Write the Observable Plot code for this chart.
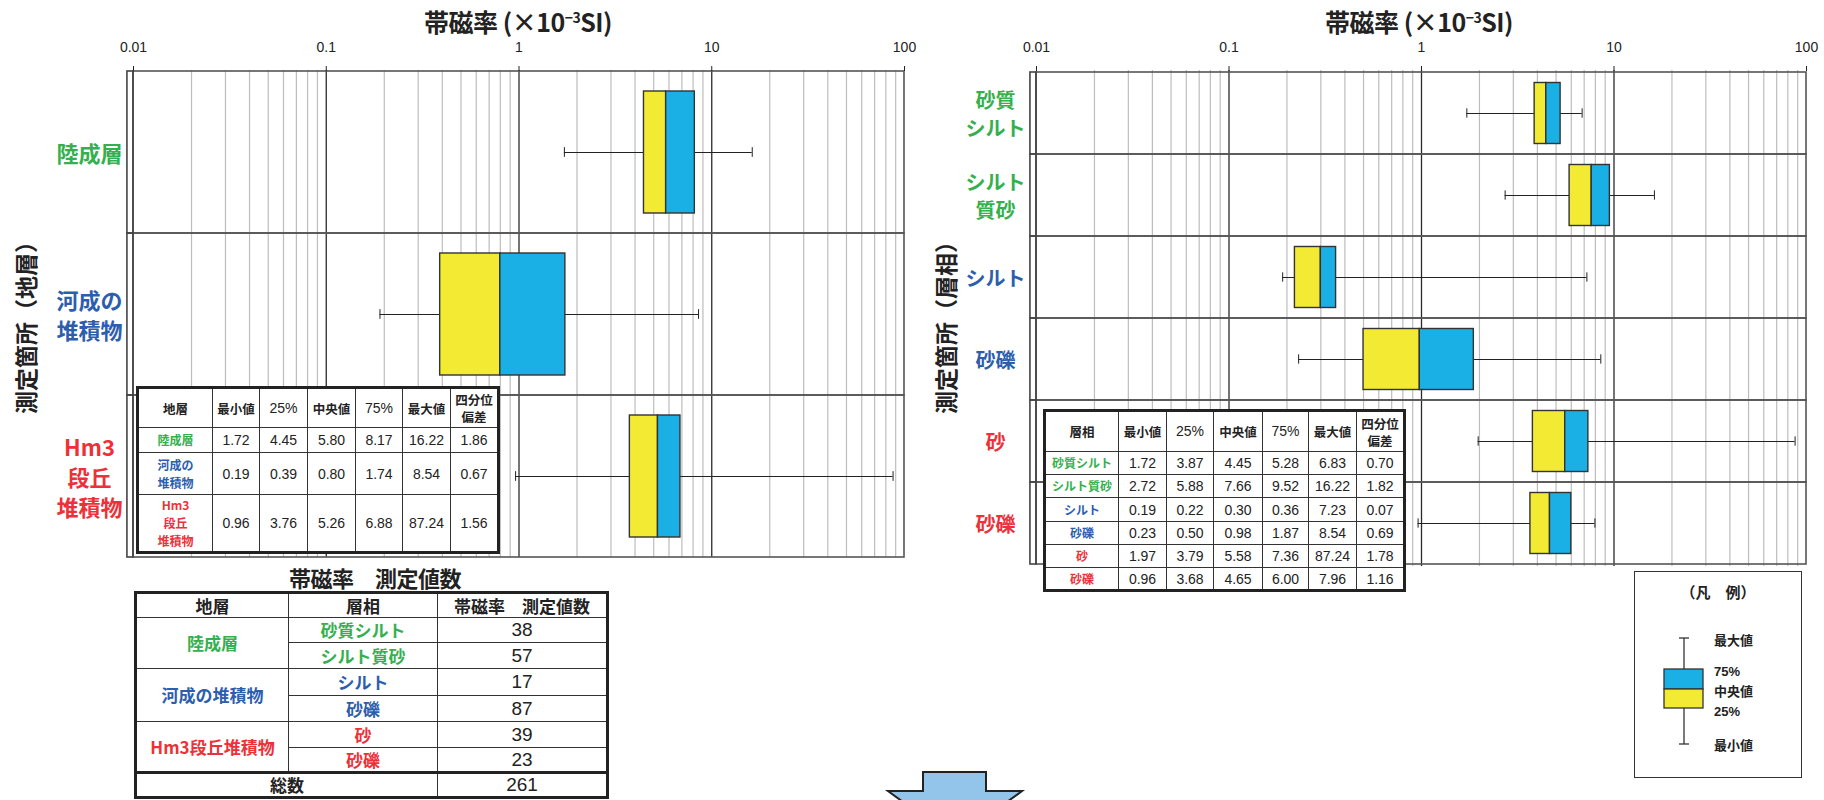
<!DOCTYPE html>
<html>
<head>
<meta charset="utf-8">
<script src="https://cdn.jsdelivr.net/npm/d3@7"></script>
<script src="https://cdn.jsdelivr.net/npm/@observablehq/plot@0.6"></script>
<style>
  html, body { margin: 0; padding: 0; background: #fff; }
  #root { position: relative; width: 1824px; height: 800px; overflow: hidden; background: #fff; }
  .abs { position: absolute; }
  .cjk { font-family: "Noto Sans CJK JP", "Noto Sans", sans-serif; font-weight: 700; }
  .title { position: absolute; width: 400px; text-align: center; font-size: 25px; line-height: 32px; color: #222; font-family: "Noto Sans CJK JP", sans-serif; font-weight: 700; letter-spacing: -0.5px; }
  .title sup { font-size: 14px; vertical-align: 9px; line-height: 0; }
  .ytitle { position: absolute; width: 300px; height: 30px; line-height: 30px; text-align: center; font-size: 23px; color: #222; font-family: "Noto Sans CJK JP", sans-serif; font-weight: 700; transform: rotate(-90deg); transform-origin: 50% 50%; }
  table.st { position: absolute; border-collapse: collapse; border: 3px solid #222; background: #fff; table-layout: fixed; font-family: "Liberation Sans", Arial, sans-serif; color: #222; }
  table.st td { border: 1.3px solid #333; text-align: center; padding: 0; font-size: 14px; }
  table.st td.h { font-family: "Noto Sans CJK JP", sans-serif; font-weight: 700; font-size: 12.5px; line-height: 17px; }
  table.st td.h.num { font-family: "Liberation Sans", Arial, sans-serif; font-size: 14px; font-weight: 400; }
  table.st td.lab { font-family: "Noto Sans CJK JP", sans-serif; font-weight: 700; font-size: 12px; line-height: 18px; }
  table.ct { position: absolute; border-collapse: collapse; border: 3px solid #222; background: #fff; table-layout: fixed; color: #222; }
  table.ct td { border: 1.3px solid #333; text-align: center; padding: 0; font-family: "Noto Sans CJK JP", sans-serif; font-weight: 700; font-size: 17px; line-height: 20px; }
  table.ct td.n { font-family: "Liberation Sans", Arial, sans-serif; font-weight: 400; font-size: 19px; }
  table.ct tr.tot td { border-top: 3px solid #222; }
  .legend { position: absolute; left: 1634px; top: 571px; width: 166px; height: 205px; border: 1.5px solid #333; background: #fff; }
  .legend .lt { position: absolute; left: 0; top: 8px; width: 166px; text-align: center; font-size: 15px; line-height: 24px; color: #222; }
  .legend .ll { position: absolute; left: 79px; font-size: 13px; line-height: 16px; color: #222; }
</style>
</head>
<body>
<div id="root"></div>
<script>
// ---------------- data ----------------
const xTicks = [0.01, 0.1, 1, 10, 100];

const strata = ["陸成層", "河成の堆積物", "Hm3段丘堆積物"];
const strataLabels = ["陸成層", "河成の\n堆積物", "Hm3\n段丘\n堆積物"];
const strataMin = [1.72, 0.19, 0.96];
const strataQ1  = [4.45, 0.39, 3.76];
const strataMed = [5.80, 0.80, 5.26];
const strataQ3  = [8.17, 1.74, 6.88];
const strataMax = [16.22, 8.54, 87.24];
const strataQD  = [1.86, 0.67, 1.56];

const facies = ["砂質シルト", "シルト質砂", "シルト", "砂礫", "砂", "砂礫"];
const faciesLabels = ["砂質\nシルト", "シルト\n質砂", "シルト", "砂礫", "砂", "砂礫"];
const faciesStratum = [0, 0, 1, 1, 2, 2];
const faciesMin = [1.72, 2.72, 0.19, 0.23, 1.97, 0.96];
const faciesQ1  = [3.87, 5.88, 0.22, 0.50, 3.79, 3.68];
const faciesMed = [4.45, 7.66, 0.30, 0.98, 5.58, 4.65];
const faciesQ3  = [5.28, 9.52, 0.36, 1.87, 7.36, 6.00];
const faciesMax = [6.83, 16.22, 7.23, 8.54, 87.24, 7.96];
const faciesQD  = [0.70, 1.82, 0.07, 0.69, 1.78, 1.16];
const faciesCounts = [38, 57, 17, 87, 39, 23];

const statHeaders = ["最小値", "25%", "中央値", "75%", "最大値", "四分位\n偏差"];

// ---------------- styles ----------------
const stratumColors = ["#34b04e", "#2d5eae", "#ee3039"];
const boxLow = "#f3ea34", boxHigh = "#1bb0e5";

const root = document.getElementById("root");

function boxPlot(o) {
  const rows = o.labels.map((label, i) => ({
    key: String(i), label, color: stratumColors[o.groups[i]],
    min: o.min[i], q1: o.q1[i], med: o.med[i], q3: o.q3[i], max: o.max[i]
  }));
  const minor = [];
  for (const d of [0.01, 0.1, 1, 10]) for (let k = 2; k <= 9; k++) minor.push(+(d * k).toPrecision(3));
  const bandH = (o.height - o.marginTop - o.marginBottom) / rows.length;
  const capInset = (bandH - 10) / 2;
  return Plot.plot({
    width: o.width, height: o.height,
    marginLeft: o.marginLeft, marginRight: o.marginRight, marginTop: o.marginTop, marginBottom: o.marginBottom,
    x: {type: "log", domain: [0.01, 100]},
    y: {type: "band", domain: rows.map(r => r.key), padding: 0, axis: null},
    color: {type: "identity"},
    style: {background: "transparent", color: "#222", fontFamily: "'Liberation Sans', Arial, sans-serif", fontSize: "14px", overflow: "visible"},
    marks: [
      Plot.ruleX(minor, {stroke: "#bdbdbd", strokeWidth: 1.2}),
      Plot.ruleX([0.1, 1, 10], {stroke: "#2a2a2a", strokeWidth: 1.3}),
      Plot.barX(rows, {x1: () => 0.01, x2: () => 100, y: "key", fill: "none", stroke: "#555", strokeWidth: 1.6}),
      Plot.barX(rows, {x1: () => 0.0093, x2: () => 0.01, y: "key", fill: "none", stroke: "#444", strokeWidth: 1.6}),
      Plot.axisX({anchor: "top", ticks: xTicks, tickSize: 5, tickPadding: 14, tickFormat: d => String(d), label: null, fontSize: 14}),
      Plot.ruleY(rows, {y: "key", x1: "min", x2: "max", stroke: "#222", strokeWidth: 1}),
      Plot.tickX(rows, {x: "min", y: "key", insetTop: capInset, insetBottom: capInset, stroke: "#222", strokeWidth: 1}),
      Plot.tickX(rows, {x: "max", y: "key", insetTop: capInset, insetBottom: capInset, stroke: "#222", strokeWidth: 1}),
      Plot.barX(rows, {x1: "q1", x2: "med", y: "key", fill: boxLow, stroke: "#333", strokeWidth: 1.4, insetTop: o.boxInset, insetBottom: o.boxInset}),
      Plot.barX(rows, {x1: "med", x2: "q3", y: "key", fill: boxHigh, stroke: "#333", strokeWidth: 1.4, insetTop: o.boxInset, insetBottom: o.boxInset}),
      Plot.text(rows, {y: "key", text: "label", fill: "color", frameAnchor: "left", dx: o.labelDx, textAnchor: "middle",
        fontSize: o.fontSize, fontWeight: "bold", lineHeight: o.lineHeight, fontFamily: "'Noto Sans CJK JP', sans-serif"})
    ]
  });
}

function place(el, left, top) {
  const wrap = document.createElement("div");
  wrap.className = "abs";
  wrap.style.left = left + "px";
  wrap.style.top = top + "px";
  wrap.appendChild(el);
  root.appendChild(wrap);
  return wrap;
}

// left panel
place(boxPlot({
  labels: strataLabels, groups: [0, 1, 2],
  min: strataMin, q1: strataQ1, med: strataMed, q3: strataQ3, max: strataMax,
  width: 912, height: 570, marginLeft: 133, marginRight: 8, marginTop: 70, marginBottom: 13,
  boxInset: 20, labelDx: -44, fontSize: 22, lineHeight: 1.35
}), 0, 0);

// right panel
place(boxPlot({
  labels: faciesLabels, groups: faciesStratum,
  min: faciesMin, q1: faciesQ1, med: faciesMed, q3: faciesQ3, max: faciesMax,
  width: 912, height: 580, marginLeft: 124, marginRight: 18, marginTop: 70, marginBottom: 14,
  boxInset: 10.5, labelDx: -41, fontSize: 20, lineHeight: 1.4
}), 912, 0);

// titles
function addDiv(cls, html, left, top) {
  const d = document.createElement("div");
  d.className = cls; d.innerHTML = html;
  d.style.left = left + "px"; d.style.top = top + "px";
  root.appendChild(d); return d;
}
addDiv("title", "帯磁率 (×10<sup>−3</sup>SI)", 318, 5);
addDiv("title", "帯磁率 (×10<sup>−3</sup>SI)", 1219, 5);
addDiv("ytitle", "測定箇所（地層）", 25 - 150, 322 - 15);
addDiv("ytitle", "測定箇所（層相）", 945 - 150, 322 - 15);

// stats tables
function statsTable(firstHeader, labels, groups, cols, colWidths, rowHeights, left, top) {
  const t = document.createElement("table");
  t.className = "st";
  t.style.left = left + "px"; t.style.top = top + "px";
  let html = "<colgroup>" + colWidths.map(w => `<col style="width:${w}px">`).join("") + "</colgroup>";
  html += `<tr style="height:${rowHeights[0]}px"><td class="h">${firstHeader}</td>` +
    statHeaders.map(h => `<td class="h${/%/.test(h) ? " num" : ""}">${h.replace("\n", "<br>")}</td>`).join("") + "</tr>";
  labels.forEach((lab, i) => {
    html += `<tr style="height:${rowHeights[i + 1]}px"><td class="lab" style="color:${stratumColors[groups[i]]}">${lab.replace(/\n/g, "<br>")}</td>` +
      cols.map(c => `<td>${c[i].toFixed(2)}</td>`).join("") + "</tr>";
  });
  t.innerHTML = html;
  root.appendChild(t);
}
statsTable("地層", strataLabels, [0, 1, 2],
  [strataMin, strataQ1, strataMed, strataQ3, strataMax, strataQD],
  [75, 47, 48, 48, 47, 48, 48], [40, 25, 42, 58], 136, 386);
statsTable("層相", facies, faciesStratum,
  [faciesMin, faciesQ1, faciesMed, faciesQ3, faciesMax, faciesQD],
  [74, 48, 47, 49, 46, 48, 48], [41, 23, 23, 24, 23, 23, 23], 1043, 409);

// count table
addDiv("title", "帯磁率　測定値数", 175, 561).style.fontSize = "22px";
(function () {
  const t = document.createElement("table");
  t.className = "ct";
  t.style.left = "134px"; t.style.top = "591px";
  let html = `<colgroup><col style="width:153px"><col style="width:149px"><col style="width:170px"></colgroup>`;
  html += `<tr style="height:25px"><td>地層</td><td>層相</td><td>帯磁率　測定値数</td></tr>`;
  const hs = [25, 26, 27, 26, 26, 25];
  facies.forEach((f, i) => {
    const g = faciesStratum[i];
    const first = i === 0 || faciesStratum[i - 1] !== g;
    const span = faciesStratum.filter(v => v === g).length;
    html += `<tr style="height:${hs[i]}px">` +
      (first ? `<td rowspan="${span}" style="color:${stratumColors[g]}">${strata[g]}</td>` : "") +
      `<td style="color:${stratumColors[g]}">${f}</td><td class="n">${faciesCounts[i]}</td></tr>`;
  });
  html += `<tr class="tot" style="height:25px"><td colspan="2">総数</td><td class="n">${d3.sum(faciesCounts)}</td></tr>`;
  t.innerHTML = html;
  root.appendChild(t);
})();

// legend
(function () {
  const lg = document.createElement("div");
  lg.className = "legend cjk";
  lg.innerHTML = `<div class="lt">（凡　例）</div>
  <svg width="166" height="205" style="position:absolute;left:0;top:0">
    <line x1="49" x2="49" y1="66" y2="172" stroke="#333" stroke-width="1.3"/>
    <line x1="44" x2="54" y1="66" y2="66" stroke="#333" stroke-width="1.3"/>
    <line x1="44" x2="54" y1="172" y2="172" stroke="#333" stroke-width="1.3"/>
    <rect x="29" y="97" width="39" height="20" fill="${boxHigh}" stroke="#333" stroke-width="1.3"/>
    <rect x="29" y="117" width="39" height="19" fill="${boxLow}" stroke="#333" stroke-width="1.3"/>
  </svg>
  <div class="ll" style="top:60px">最大値</div>
  <div class="ll" style="top:92px;font-family:'Liberation Sans',Arial,sans-serif;font-weight:700">75%</div>
  <div class="ll" style="top:111px">中央値</div>
  <div class="ll" style="top:132px;font-family:'Liberation Sans',Arial,sans-serif;font-weight:700">25%</div>
  <div class="ll" style="top:165px">最小値</div>`;
  root.appendChild(lg);
})();

// arrow
(function () {
  const ns = "http://www.w3.org/2000/svg";
  const s = document.createElementNS(ns, "svg");
  s.setAttribute("width", 1824); s.setAttribute("height", 800);
  s.style.position = "absolute"; s.style.left = "0"; s.style.top = "0"; s.style.pointerEvents = "none";
  const p = document.createElementNS(ns, "polygon");
  p.setAttribute("points", "923,772 986,772 986,791 1022,791 955,840 888,791 923,791");
  p.setAttribute("fill", "#93c5ea"); p.setAttribute("stroke", "#222"); p.setAttribute("stroke-width", "2");
  s.appendChild(p); root.appendChild(s);
})();
</script>
</body>
</html>
